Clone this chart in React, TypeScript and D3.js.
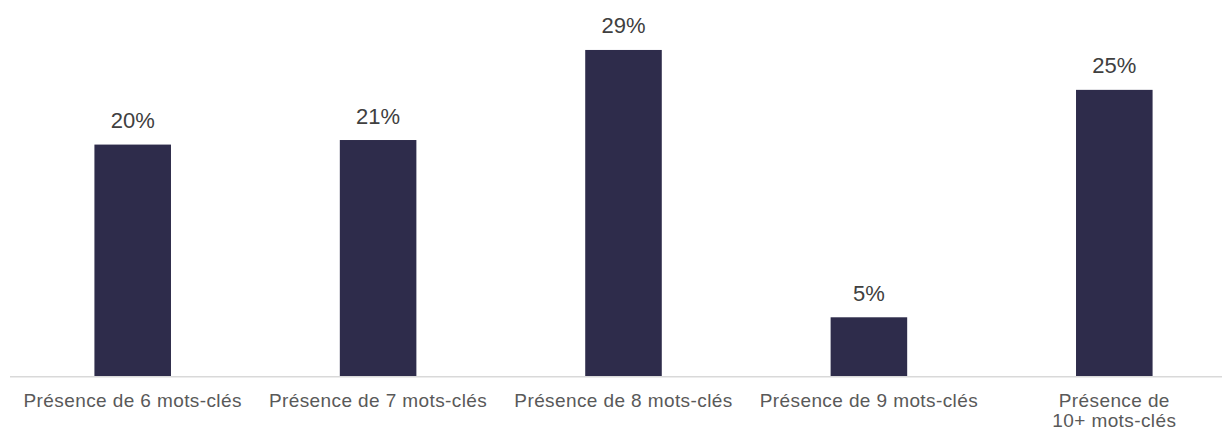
import React from "react";
import * as d3 from "d3";

const categories: string[][] = [
  ["Présence de 6 mots-clés"],
  ["Présence de 7 mots-clés"],
  ["Présence de 8 mots-clés"],
  ["Présence de 9 mots-clés"],
  ["Présence de", "10+ mots-clés"],
];
const keys = ["k6", "k7", "k8", "k9", "k10"];
const values = [20.3, 20.7, 28.6, 5.15, 25.1];

const W = 1222;
const H = 433;

export default function App() {
  const x = d3
    .scaleBand<string>()
    .domain(keys)
    .range([10, 1237])
    .paddingInner(0.688)
    .paddingOuter(0.344);
  const y = d3.scaleLinear().domain([0, 30]).range([376, 34]);
  const font = "'Liberation Sans', Arial, sans-serif";
  return (
    <svg
      width={W}
      height={H}
      style={{ position: "absolute", left: 0, top: 0, background: "#fff" }}
    >
      <rect x={0} y={0} width={W} height={H} fill="#fff" />
      {keys.map((k, i) => (
        <rect
          key={k}
          x={x(k)}
          y={y(values[i])}
          width={x.bandwidth()}
          height={y(0) - y(values[i])}
          fill="#2E2C4B"
        />
      ))}
      <line x1={10} x2={1237} y1={376.8} y2={376.8} stroke="#D9D9D9" strokeWidth={1.5} />
      {keys.map((k, i) => (
        <text
          key={"v" + k}
          x={(x(k) as number) + x.bandwidth() / 2}
          y={y(values[i]) - 16.5}
          textAnchor="middle"
          fontFamily={font}
          fontSize={22}
          fill="#404040"
        >
          {Math.round(values[i]) + "%"}
        </text>
      ))}
      {keys.map((k, i) => (
        <text
          key={"c" + k}
          textAnchor="middle"
          fontFamily={font}
          fontSize={19}
          fill="#595959"
          letterSpacing={0.4}
        >
          {categories[i].map((line, j) => (
            <tspan
              key={j}
              x={(x(k) as number) + x.bandwidth() / 2}
              y={406.7 + j * 20}
            >
              {line}
            </tspan>
          ))}
        </text>
      ))}
    </svg>
  );
}
